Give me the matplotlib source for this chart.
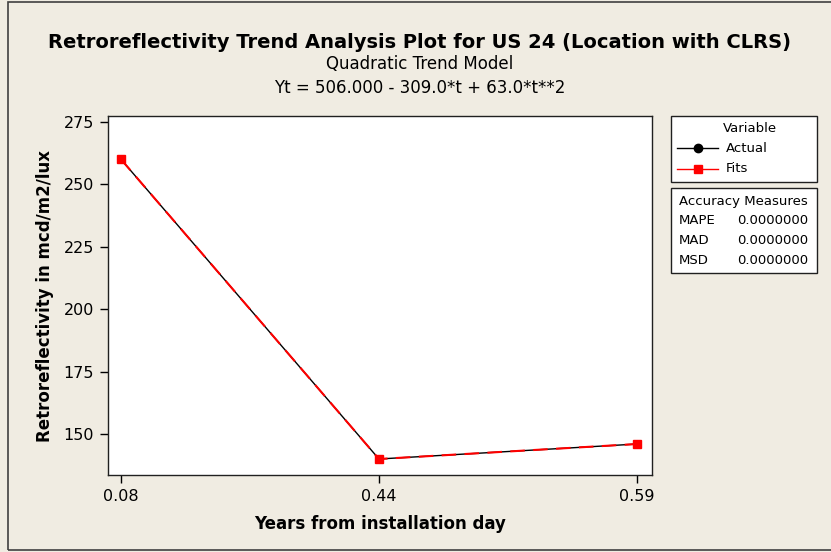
import matplotlib
matplotlib.use("Agg")
import matplotlib.pyplot as plt
from matplotlib.patches import Rectangle
from matplotlib.lines import Line2D

# Data
years = ["0.08", "0.44", "0.59"]
actual = [260, 140, 146]
fits = [260, 140, 146]
measures = ["MAPE", "MAD", "MSD"]
measure_values = ["0.0000000", "0.0000000", "0.0000000"]
y_ticks = [150, 175, 200, 225, 250, 275]

bg = "#F0ECE2"
plt.rcParams["font.family"] = ["DejaVu Sans"]

fig = plt.figure(figsize=(8.31, 5.52), dpi=100, facecolor=bg)
W, H = 831, 552

def fx(px):
    return px / W

def fy(py):
    return 1 - py / H

ax = fig.add_axes([fx(108), fy(475), fx(652) - fx(108), fy(116) - fy(475)])
ax.set_facecolor("white")

t = list(range(1, len(years) + 1))
ax.plot(t, actual, color="black", lw=1.0, marker="o", ms=5.5, mfc="black", mec="black", zorder=3)
ax.plot(t, fits, color="red", lw=1.5, ls=(0, (7, 4)), marker="s", ms=5.8, mfc="red", mec="red", zorder=4)

ax.set_xlim(0.95, 3.058)
ax.set_ylim(133.6, 277.3)
ax.set_xticks(t)
ax.set_xticklabels(years)
ax.set_yticks(y_ticks)
ax.tick_params(axis="both", direction="out", length=6, width=1, labelsize=11.5, pad=4)
for s in ax.spines.values():
    s.set_linewidth(1.0)
    s.set_color("#202020")

ax.set_xlabel("Years from installation day", fontsize=12, fontweight="bold", labelpad=8)
ax.set_ylabel("Retroreflectivity in mcd/m2/lux", fontsize=12, fontweight="bold", labelpad=7)

# Titles
fig.text(fx(420), fy(42), "Retroreflectivity Trend Analysis Plot for US 24 (Location with CLRS)",
         ha="center", va="center", fontsize=14, fontweight="bold")
fig.text(fx(420), fy(64), "Quadratic Trend Model", ha="center", va="center", fontsize=12)
fig.text(fx(420), fy(88), "Yt = 506.000 - 309.0*t + 63.0*t**2", ha="center", va="center", fontsize=12)

# Outer frame
fig.patches.append(Rectangle((fx(8), fy(550)), 1.2, fy(2) - fy(550), transform=fig.transFigure,
                             fill=False, ec="#404040", lw=1.2))

# Legend box
fig.patches.append(Rectangle((fx(671), fy(182)), fx(817) - fx(671), fy(116) - fy(182),
                             transform=fig.transFigure, fc="white", ec="#202020", lw=1.0))
fig.text(fx(750), fy(128), "Variable", ha="center", va="center", fontsize=9.5)
series_styles = [("Actual", "black", "o", "-"), ("Fits", "red", "s", "-")]
for i, (name, col, mk, ls) in enumerate(series_styles):
    yy = fy(148 + i * 21)
    fig.lines.append(Line2D([fx(677), fx(718)], [yy, yy], transform=fig.transFigure, color=col, lw=1.0, ls=ls))
    fig.lines.append(Line2D([fx(697.5)], [yy], transform=fig.transFigure, color=col, marker=mk, ms=6,
                            mfc=col, mec=col, ls="none"))
    fig.text(fx(726), yy, name, ha="left", va="center", fontsize=9.5)

# Accuracy measures box
fig.patches.append(Rectangle((fx(671), fy(273)), fx(817) - fx(671), fy(188) - fy(273),
                             transform=fig.transFigure, fc="white", ec="#202020", lw=1.0))
fig.text(fx(743), fy(201), "Accuracy Measures", ha="center", va="center", fontsize=9.5)
for i, (m, v) in enumerate(zip(measures, measure_values)):
    yy = fy(221 + i * 20)
    fig.text(fx(679), yy, m, ha="left", va="center", fontsize=9.5)
    fig.text(fx(808), yy, v, ha="right", va="center", fontsize=9.5)

fig.savefig("out.png", dpi=100, facecolor=bg)
